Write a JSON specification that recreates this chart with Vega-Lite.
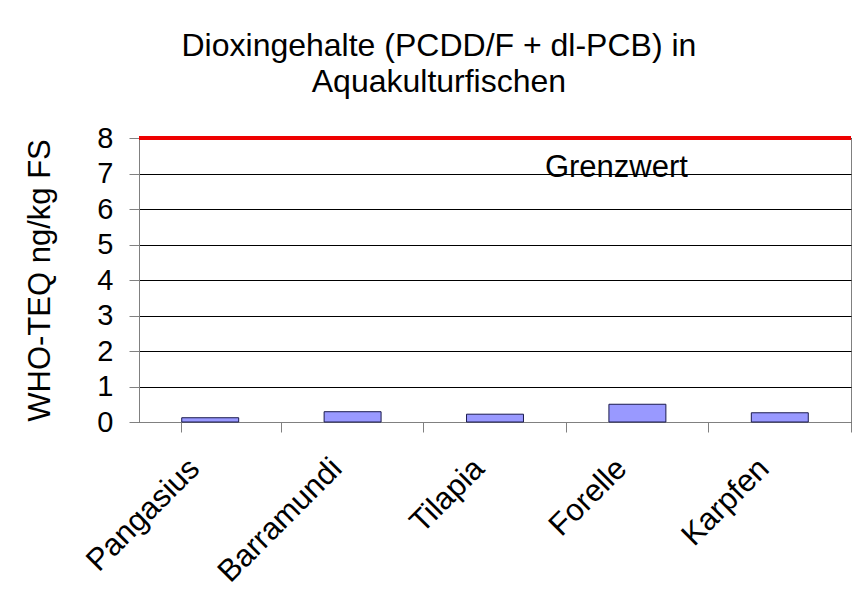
{
  "$schema": "https://vega.github.io/schema/vega-lite/v6.json",
  "width": 712,
  "height": 284,
  "padding": {"left": 24, "top": 30, "right": 14, "bottom": 5},
  "background": "white",
  "title": {
    "text": ["Dioxingehalte (PCDD/F + dl-PCB) in", "Aquakulturfischen"],
    "font": "Liberation Sans",
    "fontSize": 32,
    "fontWeight": "normal",
    "color": "#000000",
    "lineHeight": 36,
    "anchor": "middle",
    "frame": "bounds",
    "offset": 25
  },
  "config": {
    "view": {"stroke": "#808080", "strokeWidth": 1},
    "font": "Liberation Sans",
    "axisY": {
      "titleFontSize": 31,
      "titleFontWeight": "normal",
      "titleColor": "#000000",
      "titlePadding": 40,
      "labelFontSize": 29,
      "labelColor": "#000000",
      "labelPadding": 16,
      "labelOverlap": false,
      "format": "d",
      "values": [0, 1, 2, 3, 4, 5, 6, 7, 8],
      "tickCount": 12,
      "tickSize": 10,
      "tickColor": "#808080",
      "domainColor": "#808080",
      "grid": true,
      "gridColor": "#000000",
      "gridWidth": 1
    }
  },
  "data": {
    "values": [
      {"fisch": "Pangasius", "wert": 0.12},
      {"fisch": "Barramundi", "wert": 0.29},
      {"fisch": "Tilapia", "wert": 0.22},
      {"fisch": "Forelle", "wert": 0.5},
      {"fisch": "Karpfen", "wert": 0.26}
    ]
  },
  "layer": [
    {
      "mark": {"type": "bar", "color": "#9999FF", "stroke": "#1a1a4d", "strokeWidth": 1},
      "encoding": {
        "x": {
          "field": "fisch",
          "type": "nominal",
          "sort": null,
          "scale": {"paddingInner": 0.6, "paddingOuter": 0.3},
          "axis": {
            "title": null,
            "labelAngle": -45,
            "labelFontSize": 31,
            "labelColor": "#000000",
            "labelPadding": 21,
            "labelOffset": -26,
            "bandPosition": 1.75,
            "tickExtra": true,
            "tickSize": 10,
            "tickColor": "#808080",
            "domainColor": "#808080",
            "grid": false
          }
        },
        "y": {
          "field": "wert",
          "type": "quantitative",
          "scale": {"domain": [0, 8], "nice": false},
          "axis": {"title": "WHO-TEQ ng/kg FS", "values": [0, 1, 2, 3, 4, 5, 6, 7, 8], "tickCount": 12, "format": "d"}
        }
      }
    },
    {
      "data": {"values": [{"grenze": 8, "label": "Grenzwert", "pos": 7.15, "fisch": "Forelle"}]},
      "layer": [
        {
          "mark": {"type": "rule", "color": "#ee0000", "strokeWidth": 4},
          "encoding": {
            "y": {"field": "grenze", "type": "quantitative"}
          }
        },
        {
          "mark": {"type": "text", "fontSize": 31, "color": "#000000", "dx": -21, "baseline": "middle"},
          "encoding": {
            "x": {"field": "fisch", "type": "nominal", "sort": null},
            "y": {"field": "pos", "type": "quantitative"},
            "text": {"field": "label"}
          }
        }
      ]
    }
  ]
}
